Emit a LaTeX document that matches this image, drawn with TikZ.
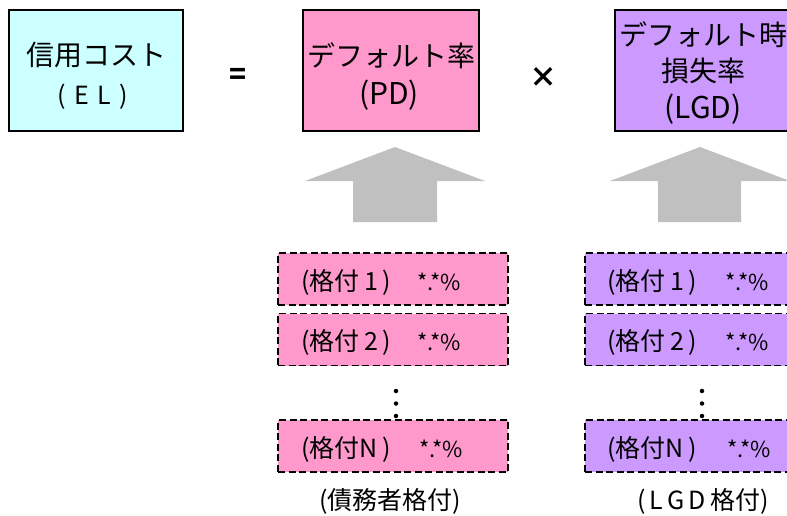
\documentclass[tikz,border=0pt]{standalone}
\usepackage{fontspec}
\setmainfont{Noto Sans CJK JP}
\definecolor{elfill}{HTML}{CCFFFF}
\definecolor{pdfill}{HTML}{FF99CC}
\definecolor{lgdfill}{HTML}{CC99FF}
\definecolor{arrowgray}{HTML}{C0C0C0}
\begin{document}
\begin{tikzpicture}[x=1pt,y=-1pt,
  topbox/.style={draw=black, line width=1.3pt, rectangle, inner sep=0pt, align=center},
  ratebox/.style={draw=black, dashed, dash pattern=on 7pt off 3.5pt, line width=1.3pt, rectangle, inner sep=0pt},
  bigtxt/.style={font=\fontsize{28}{32}\selectfont},
  subtxt/.style={font=\fontsize{25}{30}\selectfont},
  midtxt/.style={font=\fontsize{25}{28}\selectfont},
  smalltxt/.style={font=\fontsize{22}{25}\selectfont},
  dotmark/.style={fill=black, circle, inner sep=0pt, minimum size=4.5pt},
  blockarrow/.style={fill=arrowgray, draw=none}]
\useasboundingbox (0,0) rectangle (787,516);
\clip (0,0) rectangle (787,516);
% top boxes
\node[topbox, fill=elfill, minimum width=174pt, minimum height=121pt] (el) at (96,70.5) {};
\node[bigtxt] (eltxt) at (96,55) {信用コスト};
\node[subtxt] (elsub) at (93,97) {(\,\,E\,\,L\,\,)};
\node[bigtxt] (eq) at (238,76) {\textbf{=}};
\node[topbox, fill=pdfill, minimum width=176pt, minimum height=121pt] (pd) at (391,70.5) {};
\node[bigtxt] (pdtxt) at (391,56) {デフォルト率};
\node[font=\fontsize{30}{34}\selectfont] (pdsub) at (389,95) {(PD)};
\node[bigtxt] (times) at (543,77) {\textbf{×}};
\node[topbox, fill=lgdfill, minimum width=176pt, minimum height=121pt] (lgd) at (703,70.5) {};
\node[bigtxt] (lgdtxt1) at (703,35) {デフォルト時};
\node[bigtxt] (lgdtxt2) at (703,71) {損失率};
\node[font=\fontsize{30}{34}\selectfont] (lgdsub) at (703,109) {(LGD)};
% block arrows
\draw[blockarrow] (395,147) -- (485,181) -- (437,181) -- (437,222) -- (353,222) -- (353,181) -- (305,181) -- cycle;
\draw[blockarrow] (700,147) -- (790,181) -- (741,181) -- (741,222) -- (658,222) -- (658,181) -- (610,181) -- cycle;
% PD rating boxes
\node[ratebox, fill=pdfill, minimum width=230pt, minimum height=52pt] (pd1) at (393,279) {};
\node[ratebox, fill=pdfill, minimum width=230pt, minimum height=52pt] (pd2) at (393,339.5) {};
\node[ratebox, fill=pdfill, minimum width=230pt, minimum height=52pt] (pdn) at (393,446) {};
\node[midtxt, anchor=west] (pd1a) at (298,282) {(格付\,1\,)};
\node[smalltxt, anchor=west] (pd1b) at (414,282) {*.*\%};
\node[midtxt, anchor=west] (pd2a) at (298,342) {(格付\,2\,)};
\node[smalltxt, anchor=west] (pd2b) at (414,342) {*.*\%};
\node[midtxt, anchor=west] (pdna) at (298,449) {(格付N\,)};
\node[smalltxt, anchor=west] (pdnb) at (416,449) {*.*\%};
\node[dotmark] (pdd1) at (396,391) {};
\node[dotmark] (pdd2) at (396,403.5) {};
\node[dotmark] (pdd3) at (396,416) {};
\node[midtxt] (pdlab) at (390,501) {(債務者格付)};
% LGD rating boxes
\node[ratebox, fill=lgdfill, minimum width=230pt, minimum height=52pt] (lgd1) at (700,279) {};
\node[ratebox, fill=lgdfill, minimum width=230pt, minimum height=52pt] (lgd2) at (700,339.5) {};
\node[ratebox, fill=lgdfill, minimum width=230pt, minimum height=52pt] (lgdn) at (700,446) {};
\node[midtxt, anchor=west] (lgd1a) at (604,282) {(格付\,1\,)};
\node[smalltxt, anchor=west] (lgd1b) at (722,282) {*.*\%};
\node[midtxt, anchor=west] (lgd2a) at (604,342) {(格付\,2\,)};
\node[smalltxt, anchor=west] (lgd2b) at (722,342) {*.*\%};
\node[midtxt, anchor=west] (lgdna) at (604,449) {(格付N\,)};
\node[smalltxt, anchor=west] (lgdnb) at (724,449) {*.*\%};
\node[dotmark] (lgdd1) at (702,391) {};
\node[dotmark] (lgdd2) at (702,403.5) {};
\node[dotmark] (lgdd3) at (702,416) {};
\node[midtxt] (lgdlab) at (703,501) {(\,L\,G\,D\,格付)};
\end{tikzpicture}
\end{document}
